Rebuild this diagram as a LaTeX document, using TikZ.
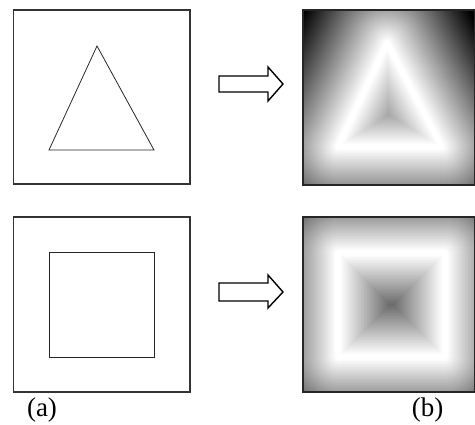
\documentclass[tikz,border=0pt]{standalone}
\usepackage{fontspec}
\setmainfont{Liberation Serif}
\begin{document}
\begin{tikzpicture}[x=1pt,y=-1pt,
  framebox/.style={line width=1.6pt,draw=black!80},
  shapeline/.style={line width=0.8pt,draw=black!85},
  gradframe/.style={line width=2.5pt,draw=black!85},
  blockarrow/.style={line width=1.4pt,draw=black,fill=white,line join=miter},
  lab/.style={font=\fontsize{27}{30}\selectfont,inner sep=0pt}]
\useasboundingbox (0,0) rectangle (475,425);
% left: input shapes
\draw[framebox] (13.5,10) rectangle (190,184);
\draw[shapeline] (97,46) -- (49,150) -- (154,150) -- cycle;
\draw[framebox] (13.5,217) rectangle (190,392);
\draw[shapeline] (49,252) rectangle (154,357);
% arrows
\draw[blockarrow] (219,76) -- (268,76) -- (268,67) -- (283,84) -- (268,101) -- (268,92) -- (219,92) -- cycle;
\draw[blockarrow] (219,283) -- (268,283) -- (268,275) -- (283,292) -- (268,308) -- (268,301) -- (219,301) -- cycle;
% right: distance fields
\begin{scope}
\clip (303,10) rectangle (475,185);
\fill[black] (303,10) rectangle (475,185);
\foreach \i in {130,129,...,1} {
  \pgfmathsetmacro\w{1.5*\i}
  \pgfmathsetmacro\p{max(0,min(100,(0.75*\i-2.5)/86*100))}
  \draw[line width=\w pt,line join=round,draw=black!\p] (387,43) -- (338,147) -- (442,147) -- cycle;
}
\end{scope}
\draw[gradframe] (303,10) rectangle (475,185);
\begin{scope}
\clip (303,217) rectangle (475,392);
\fill[black] (303,217) rectangle (475,392);
\foreach \i in {130,129,...,1} {
  \pgfmathsetmacro\w{1.5*\i}
  \pgfmathsetmacro\p{max(0,min(100,(0.75*\i-2.5)/86*100))}
  \draw[line width=\w pt,line join=round,draw=black!\p] (338,253) rectangle (445,357);
}
\end{scope}
\draw[gradframe] (303,217) rectangle (475,392);
% labels
\node[lab] (la) at (42,410) {(a)};
\node[lab] (lb) at (427.5,410) {(b)};
\end{tikzpicture}
\end{document}
